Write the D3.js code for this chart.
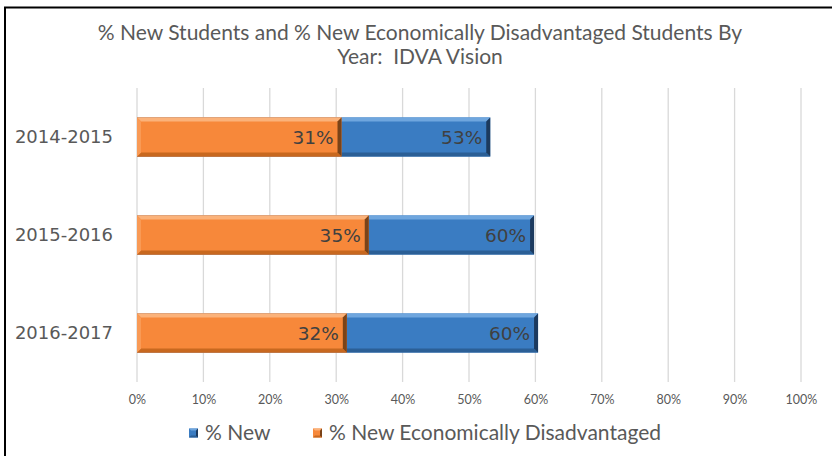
<!DOCTYPE html>
<html>
<head>
<meta charset="utf-8">
<script src="https://cdn.jsdelivr.net/npm/d3@7"></script>
<style>
  html, body { margin: 0; padding: 0; background: #fff; }
  svg { display: block; }
</style>
</head>
<body>
<svg id="chart" width="832" height="456"></svg>
<script>
// School years shown on the vertical axis
const years = ["2014-2015", "2015-2016", "2016-2017"];
// Share of new students per year
const pctNew = [0.532, 0.598, 0.604];
// Share of new economically disadvantaged students per year
const pctNewEcon = [0.308, 0.349, 0.316];
// Axis tick values
const xTicks = [0, 0.1, 0.2, 0.3, 0.4, 0.5, 0.6, 0.7, 0.8, 0.9, 1.0];
// Series names for the legend
const seriesNames = ["% New", "% New Economically Disadvantaged"];

const svg = d3.select("#chart");
const W = 832, H = 456;
const textGray = "#595959";
const narrowFont = "Lato, 'Open Sans', sans-serif";
const wideFont = "'DejaVu Sans', Verdana, sans-serif";

// Frame (only the left and top edges fall inside the view)
svg.append("path")
  .attr("d", `M5,${H} V7.5 H${W}`)
  .attr("fill", "none")
  .attr("stroke", "#000")
  .attr("stroke-width", 2);

// Title
const title = svg.append("text")
  .attr("x", 420).attr("text-anchor", "middle")
  .attr("fill", textGray)
  .style("font-family", narrowFont)
  .style("font-size", "21px")
  .style("white-space", "pre");
title.append("tspan").attr("x", 420).attr("y", 40)
  .text("% New Students and % New Economically Disadvantaged Students By");
title.append("tspan").attr("x", 420).attr("y", 64)
  .text("Year:  IDVA Vision");

// Scales
const x = d3.scaleLinear().domain([0, 1]).range([137, 801]);
const y = d3.scaleBand().domain(years).range([88, 382])
  .paddingInner(0.6).paddingOuter(0.3);

// Vertical gridlines
svg.append("g").selectAll("line")
  .data(xTicks).join("line")
  .attr("x1", d => x(d)).attr("x2", d => x(d))
  .attr("y1", 88).attr("y2", 382)
  .attr("stroke", "#d9d9d9").attr("stroke-width", 1.3);

// X axis tick labels
const xAxis = d3.axisBottom(x).tickValues(xTicks).tickFormat(d3.format(".0%")).tickSize(0);
const gx = svg.append("g").attr("transform", "translate(0,392)").call(xAxis);
gx.select(".domain").remove();
gx.selectAll("text")
  .attr("fill", textGray)
  .style("font-family", narrowFont)
  .style("font-size", "12.5px");

// Y axis category labels
const yAxis = d3.axisLeft(y).tickSize(0).tickPadding(24);
const gy = svg.append("g").attr("transform", `translate(${x(0)},0)`).call(yAxis);
gy.select(".domain").remove();
gy.selectAll("text")
  .attr("fill", textGray)
  .attr("dy", "0.35em")
  .style("font-family", wideFont)
  .style("font-size", "18px");

// Bevelled bar: base fill plus lighter top/left and darker bottom/right edges
function bevelBar(g, x0, x1, y0, h, c) {
  const b = 4;
  g.append("rect").attr("x", x0).attr("y", y0).attr("width", x1 - x0).attr("height", h)
    .attr("fill", c.base);
  const poly = pts => g.append("polygon").attr("points", pts.map(p => p.join(",")).join(" "));
  poly([[x0, y0], [x1, y0], [x1 - b, y0 + b], [x0 + b, y0 + b]]).attr("fill", c.top);
  poly([[x0, y0 + h], [x1, y0 + h], [x1 - b, y0 + h - b], [x0 + b, y0 + h - b]]).attr("fill", c.bottom);
  poly([[x0, y0], [x0 + b, y0 + b], [x0 + b, y0 + h - b], [x0, y0 + h]]).attr("fill", c.left);
  poly([[x1, y0], [x1 - b, y0 + b], [x1 - b, y0 + h - b], [x1, y0 + h]]).attr("fill", c.right);
}

const blue = { base: "#3a7cc2", top: "#6fa6de", bottom: "#2b5f96", left: "#4f8dcf", right: "#1c3a5e" };
const orange = { base: "#f7883a", top: "#fbb27a", bottom: "#c8681f", left: "#f99a55", right: "#7a4318" };

const bars = svg.append("g");
years.forEach((yr, i) => {
  const g = bars.append("g");
  bevelBar(g, x(0), x(pctNew[i]), y(yr), y.bandwidth(), blue);
  bevelBar(g, x(0), x(pctNewEcon[i]), y(yr), y.bandwidth(), orange);
});

// Data labels at the inner end of each bar
const fmt = d3.format(".0%");
const labelSeries = [pctNewEcon, pctNew];
const labels = svg.append("g")
  .style("font-family", wideFont)
  .style("font-size", "18.5px")
  .attr("fill", "#404040");
labelSeries.forEach(vals => {
  labels.selectAll(null).data(vals).join("text")
    .attr("x", d => x(d) - 8)
    .attr("y", (d, i) => y(years[i]) + y.bandwidth() / 2)
    .attr("dy", "0.36em")
    .attr("text-anchor", "end")
    .text(d => fmt(d));
});

// Legend
const legend = svg.append("g").attr("transform", "translate(0,433)");
const legendItems = [
  { name: seriesNames[0], c: blue, x: 189 },
  { name: seriesNames[1], c: orange, x: 313 }
];
legendItems.forEach(it => {
  const g = legend.append("g").attr("transform", `translate(${it.x},0)`);
  const s = 9;
  g.append("rect").attr("x", 0).attr("y", -s / 2).attr("width", s).attr("height", s).attr("fill", it.c.base);
  g.append("polygon").attr("points", `0,${-s/2} ${s},${-s/2} ${s-2},${-s/2+2} 2,${-s/2+2}`).attr("fill", it.c.top);
  g.append("polygon").attr("points", `0,${s/2} ${s},${s/2} ${s-2},${s/2-2} 2,${s/2-2}`).attr("fill", it.c.bottom);
  g.append("polygon").attr("points", `${s},${-s/2} ${s-2},${-s/2+2} ${s-2},${s/2-2} ${s},${s/2}`).attr("fill", it.c.right);
  g.append("text").attr("x", s + 7).attr("dy", "0.35em")
    .attr("fill", textGray)
    .style("font-family", narrowFont)
    .style("font-size", "21px")
    .text(it.name);
});
</script>
</body>
</html>
